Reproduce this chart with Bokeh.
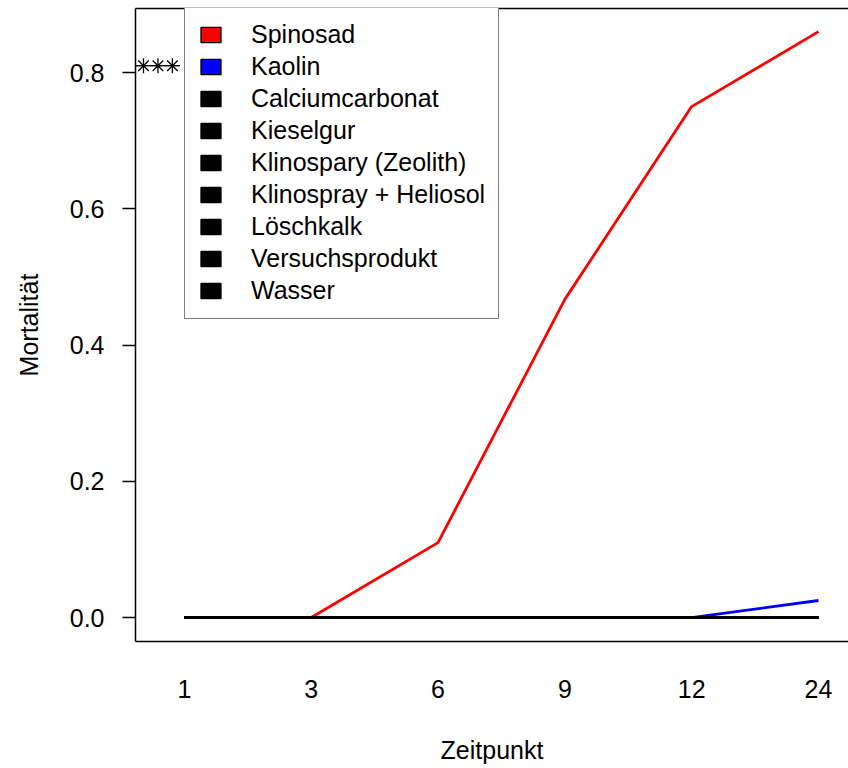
from bokeh.plotting import figure
from bokeh.models import (Range1d, FixedTicker, LinearAxis, Legend, LegendItem,
                          NumeralTickFormatter)
from bokeh.embed import file_html
from bokeh.resources import INLINE

# Zeitpunkte (categorical time points) and mean mortality per treatment
zeitpunkt = ["1", "3", "6", "9", "12", "24"]
spinosad = [0.0, 0.0, 0.11, 0.467, 0.75, 0.86]
kaolin = [0.0, 0.0, 0.0, 0.0, 0.0, 0.025]
calciumcarbonat = [0.0, 0.0, 0.0, 0.0, 0.0, 0.0]
kieselgur = [0.0, 0.0, 0.0, 0.0, 0.0, 0.0]
klinospray_zeolith = [0.0, 0.0, 0.0, 0.0, 0.0, 0.0]
klinospray_heliosol = [0.0, 0.0, 0.0, 0.0, 0.0, 0.0]
loeschkalk = [0.0, 0.0, 0.0, 0.0, 0.0, 0.0]
versuchsprodukt = [0.0, 0.0, 0.0, 0.0, 0.0, 0.0]
wasser = [0.0, 0.0, 0.0, 0.0, 0.0, 0.0]

treatments = ["Spinosad", "Kaolin", "Calciumcarbonat", "Kieselgur",
              "Klinospary (Zeolith)", "Klinospray + Heliosol", "Löschkalk",
              "Versuchsprodukt", "Wasser"]
series = [spinosad, kaolin, calciumcarbonat, kieselgur, klinospray_zeolith,
          klinospray_heliosol, loeschkalk, versuchsprodukt, wasser]
colors = ["red", "blue", "black", "black", "black", "black", "black", "black", "black"]

y_ticks = [0.0, 0.2, 0.4, 0.6, 0.8]
sig_level = 0.81

FONT = "Liberation Sans"
FS = "25px"
NAN = float("nan")

x_idx = list(range(len(zeitpunkt)))

p = figure(width=848, height=768, output_backend="svg", toolbar_location=None,
           x_range=Range1d(-0.386, 5.237), y_range=Range1d(-0.0352, 0.894),
           min_border_left=135, min_border_top=8, min_border_bottom=127,
           min_border_right=0, x_axis_location=None, y_axis_location=None)
p.outline_line_color = None
p.xgrid.visible = False
p.ygrid.visible = False
p.background_fill_color = "white"
p.border_fill_color = "white"

# bottom axis: box line plus category labels set well below it
xb = LinearAxis(ticker=FixedTicker(ticks=x_idx),
                major_label_overrides={i: z for i, z in zip(x_idx, zeitpunkt)},
                axis_label="Zeitpunkt")
xb.major_tick_out = 0
xb.major_tick_in = 0
xb.minor_tick_line_color = None
xb.major_label_standoff = 38
xb.axis_label_standoff = 35
xb.axis_line_color = "black"
xb.axis_line_width = 1.5
xb.major_label_text_font = FONT
xb.major_label_text_font_size = FS
xb.major_label_text_color = "black"
xb.axis_label_text_font = FONT
xb.axis_label_text_font_size = FS
xb.axis_label_text_font_style = "normal"
xb.axis_label_text_color = "black"
p.add_layout(xb, "below")

# top box line
xt = LinearAxis(ticker=FixedTicker(ticks=[]))
xt.major_tick_out = 0
xt.major_tick_in = 0
xt.minor_tick_line_color = None
xt.major_label_text_font_size = "0px"
xt.major_label_standoff = 0
xt.axis_line_width = 1.5
p.add_layout(xt, "above")

# left axis
yl = LinearAxis(ticker=FixedTicker(ticks=y_ticks),
                formatter=NumeralTickFormatter(format="0.0"),
                axis_label="Mortalität")
yl.major_tick_out = 13
yl.major_tick_in = 0
yl.major_tick_line_width = 1.5
yl.minor_tick_line_color = None
yl.major_label_standoff = 18
yl.major_label_orientation = "horizontal"
yl.axis_label_standoff = 24
yl.axis_line_width = 1.5
yl.major_label_text_font = FONT
yl.major_label_text_font_size = FS
yl.major_label_text_color = "black"
yl.axis_label_text_font = FONT
yl.axis_label_text_font_size = FS
yl.axis_label_text_font_style = "normal"
yl.axis_label_text_color = "black"
p.add_layout(yl, "left")

# interaction lines, drawn in factor order so the black ones sit on top
for vals, col in zip(series, colors):
    p.line(x_idx, vals, line_color=col, line_width=2.8)

# significance marker (asterisk + dash gives the eight-spoke star)
star_x = [-0.323, -0.209, -0.095]
p.scatter(star_x, [sig_level] * 3, marker="asterisk",
          size=15, line_color="black", line_width=1.3)
p.scatter(star_x, [sig_level] * 3, marker="dash",
          size=15, line_color="black", line_width=1.3)

# square swatches for the legend
items = []
for name, col in zip(treatments, colors):
    r = p.quad(left=[NAN], right=[NAN], top=[NAN], bottom=[NAN], fill_color=col,
               line_color="black", line_width=1.3)
    items.append(LegendItem(label=name, renderers=[r]))

legend = Legend(items=items, location=(49, 322))
legend.glyph_width = 25
legend.glyph_height = 19
legend.label_height = 29
legend.spacing = 3
legend.padding = 13
legend.label_standoff = 28
legend.label_text_font = FONT
legend.label_text_font_size = FS
legend.label_text_color = "black"
legend.border_line_color = "black"
legend.border_line_width = 1.5
legend.background_fill_color = "white"
legend.background_fill_alpha = 1.0
legend.margin = 0
p.add_layout(legend, "center")

open("out.html", "w").write(file_html(p, INLINE))
